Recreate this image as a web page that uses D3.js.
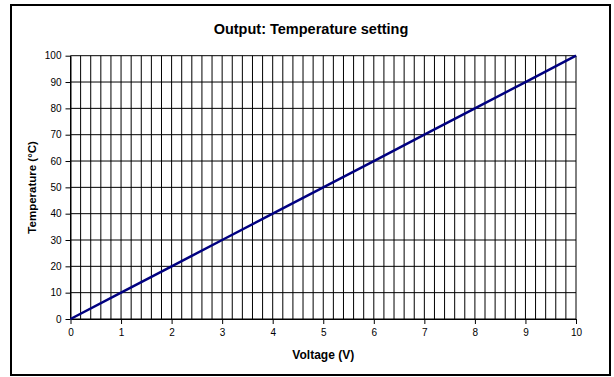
<!DOCTYPE html>
<html>
<head>
<meta charset="utf-8">
<script src="https://cdn.jsdelivr.net/npm/d3@7/dist/d3.min.js"></script>
<style>
  html, body { margin: 0; padding: 0; background: #fff; }
  svg { display: block; font-family: "Liberation Sans", Arial, sans-serif; }
</style>
</head>
<body>
<svg id="chart" width="614" height="377"></svg>
<script>
// Output characteristic: temperature set point vs control voltage
const voltage = [0, 1, 2, 3, 4, 5, 6, 7, 8, 9, 10];
const temperature = [0, 10, 20, 30, 40, 50, 60, 70, 80, 90, 100];
const xTicks = [0, 1, 2, 3, 4, 5, 6, 7, 8, 9, 10];
const yTicks = [0, 10, 20, 30, 40, 50, 60, 70, 80, 90, 100];
const xMinorStep = 0.2;

const chartTitle = "Output: Temperature setting";
const xTitle = "Voltage (V)";
const yTitle = "Temperature (°C)";

const svg = d3.select("#chart");
const plot = { left: 70.5, right: 576, top: 55.7, bottom: 319 };

const x = d3.scaleLinear().domain([0, 10]).range([plot.left, plot.right]);
const y = d3.scaleLinear().domain([0, 100]).range([plot.bottom, plot.top]);

// Outer frame
svg.append("rect")
  .attr("x", 11).attr("y", 5)
  .attr("width", 599).attr("height", 370)
  .attr("fill", "#fff")
  .attr("stroke", "#000")
  .attr("stroke-width", 2);

// Title
svg.append("text")
  .attr("x", 311).attr("y", 34)
  .attr("text-anchor", "middle")
  .attr("font-size", 14.5)
  .attr("font-weight", "bold")
  .text(chartTitle);

const grid = svg.append("g").attr("stroke", "#000").attr("stroke-width", 1);

// Vertical grid every 0.2 V
const vLines = d3.range(0, 10 + 1e-9, xMinorStep).map(v => +v.toFixed(1));
grid.selectAll("line.v").data(vLines).join("line")
  .attr("class", "v")
  .attr("x1", d => x(d)).attr("x2", d => x(d))
  .attr("y1", y(0)).attr("y2", y(100));

// Horizontal grid every 10 °C
grid.selectAll("line.h").data(yTicks).join("line")
  .attr("class", "h")
  .attr("x1", x(0)).attr("x2", x(10))
  .attr("y1", d => y(d)).attr("y2", d => y(d));

// Axes
const xAxis = d3.axisBottom(x).tickValues(xTicks).tickSize(5).tickSizeOuter(0).tickPadding(5);
const yAxis = d3.axisLeft(y).tickValues(yTicks).tickSize(5).tickSizeOuter(0).tickPadding(4);

const gx = svg.append("g").attr("transform", `translate(0,${plot.bottom})`).call(xAxis);
const gy = svg.append("g").attr("transform", `translate(${plot.left},0)`).call(yAxis);

[gx, gy].forEach(g => {
  g.select(".domain").attr("stroke", "#000");
  g.selectAll(".tick line").attr("stroke", "#000");
  g.selectAll(".tick text")
    .attr("font-family", "Liberation Sans, Arial, sans-serif")
    .attr("font-size", 10)
    .attr("fill", "#000");
});

// Axis titles
svg.append("text")
  .attr("x", (plot.left + plot.right) / 2).attr("y", 359)
  .attr("text-anchor", "middle")
  .attr("font-size", 12)
  .attr("font-weight", "bold")
  .text(xTitle);

svg.append("text")
  .attr("transform", `translate(36,${(plot.top + plot.bottom) / 2}) rotate(-90)`)
  .attr("text-anchor", "middle")
  .attr("font-size", 11.5)
  .attr("font-weight", "bold")
  .text(yTitle);

// Series line
const line = d3.line().x((d, i) => x(voltage[i])).y(d => y(d));
svg.append("path")
  .datum(temperature)
  .attr("d", line)
  .attr("fill", "none")
  .attr("stroke", "#000080")
  .attr("stroke-width", 2.5);
</script>
</body>
</html>
